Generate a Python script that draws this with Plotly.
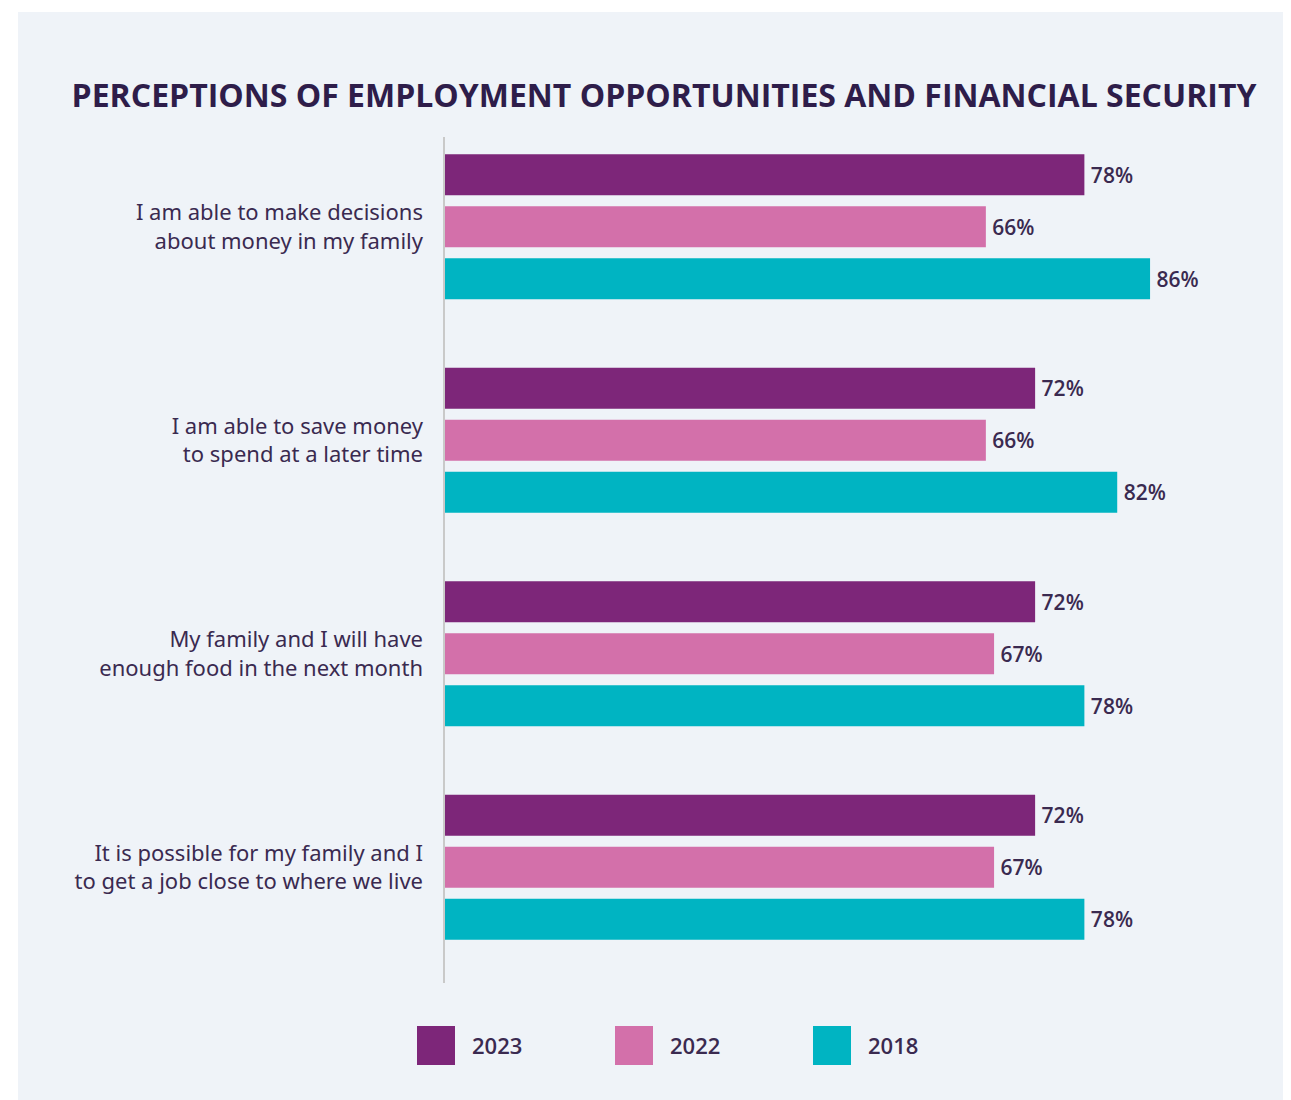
import plotly.graph_objects as go

# Datos
categorias = [
    "I am able to make decisions<br>about money in my family",
    "I am able to save money<br>to spend at a later time",
    "My family and I will have<br>enough food in the next month",
    "It is possible for my family and I<br>to get a job close to where we live",
]
anios = ["2023", "2022", "2018"]
valores_2023 = [78, 72, 72, 72]
valores_2022 = [66, 66, 67, 67]
valores_2018 = [86, 82, 78, 78]

COLORES = ["#7d2679", "#d370aa", "#00b4c2"]
TEXTO = "#3a2a50"
FONDO = "#eff3f8"

OFF = 8  # margen del <body> de la página
W, H = 1291 - OFF, 1100 - OFF
M_L, M_R, M_T, M_B = 436, 26, 112, 126
PW, PH = W - M_L - M_R, H - M_T - M_B


def px_x(px):
    """Pixel horizontal de la página -> coordenada paper."""
    return (px - OFF - M_L) / PW


def px_y(py):
    """Pixel vertical de la página -> coordenada paper."""
    return (H - M_B - (py - OFF)) / PH


fig = go.Figure()
for anio, vals, color in zip(anios, [valores_2023, valores_2022, valores_2018], COLORES):
    fig.add_trace(go.Bar(
        y=categorias, x=vals, orientation="h", name=anio,
        marker=dict(color=color, line=dict(width=0)),
        text=[f"\u2009{v}%" for v in vals], textposition="outside",
        textfont=dict(family="Open Sans", size=21, color=TEXTO, weight=600),
        cliponaxis=False, showlegend=False,
    ))

shapes = [
    # bordes blancos fuera del panel
    dict(type="rect", xref="paper", yref="paper", x0=px_x(0), x1=px_x(1300),
         y0=px_y(12), y1=px_y(0), fillcolor="white", line_width=0),
    dict(type="rect", xref="paper", yref="paper", x0=px_x(0), x1=px_x(18),
         y0=px_y(1110), y1=px_y(0), fillcolor="white", line_width=0),
    # eje vertical
    dict(type="line", xref="paper", yref="paper", x0=px_x(444), x1=px_x(444),
         y0=px_y(983), y1=px_y(137), line=dict(color="#c9c9c9", width=2)),
]

# leyenda manual con cuadros grandes
annotations = []
for i, (anio, color) in enumerate(zip(anios, COLORES)):
    x0 = 417 + 198 * i
    shapes.append(dict(type="rect", xref="paper", yref="paper",
                       x0=px_x(x0), x1=px_x(x0 + 38),
                       y0=px_y(1065), y1=px_y(1026),
                       fillcolor=color, line_width=0))
    annotations.append(dict(xref="paper", yref="paper", x=px_x(x0 + 53), y=px_y(1045),
                            text=anio, showarrow=False, xanchor="left", yanchor="middle",
                            font=dict(family="Open Sans", size=22, color=TEXTO, weight=600)))

fig.update_layout(
    width=W, height=H,
    margin=dict(l=M_L, r=M_R, t=M_T, b=M_B),
    paper_bgcolor=FONDO, plot_bgcolor=FONDO,
    barmode="group", bargap=0.27, bargroupgap=0.21,
    title=dict(
        text="<b>PERCEPTIONS OF EMPLOYMENT OPPORTUNITIES AND FINANCIAL SECURITY</b>",
        x=(664 - OFF) / W, xanchor="center", xref="container",
        y=1 - (96 - OFF) / H, yanchor="middle", yref="container",
        font=dict(family="Open Sans", size=32, color="#2e1d4a"),
    ),
    xaxis=dict(range=[0, 100], visible=False),
    yaxis=dict(
        autorange="reversed", showgrid=False, showline=False, zeroline=False,
        ticks="", ticklabelstandoff=20,
        tickfont=dict(family="Noto Sans", size=22, color=TEXTO),
    ),
    shapes=shapes, annotations=annotations,
)

fig.write_html("out.html")
